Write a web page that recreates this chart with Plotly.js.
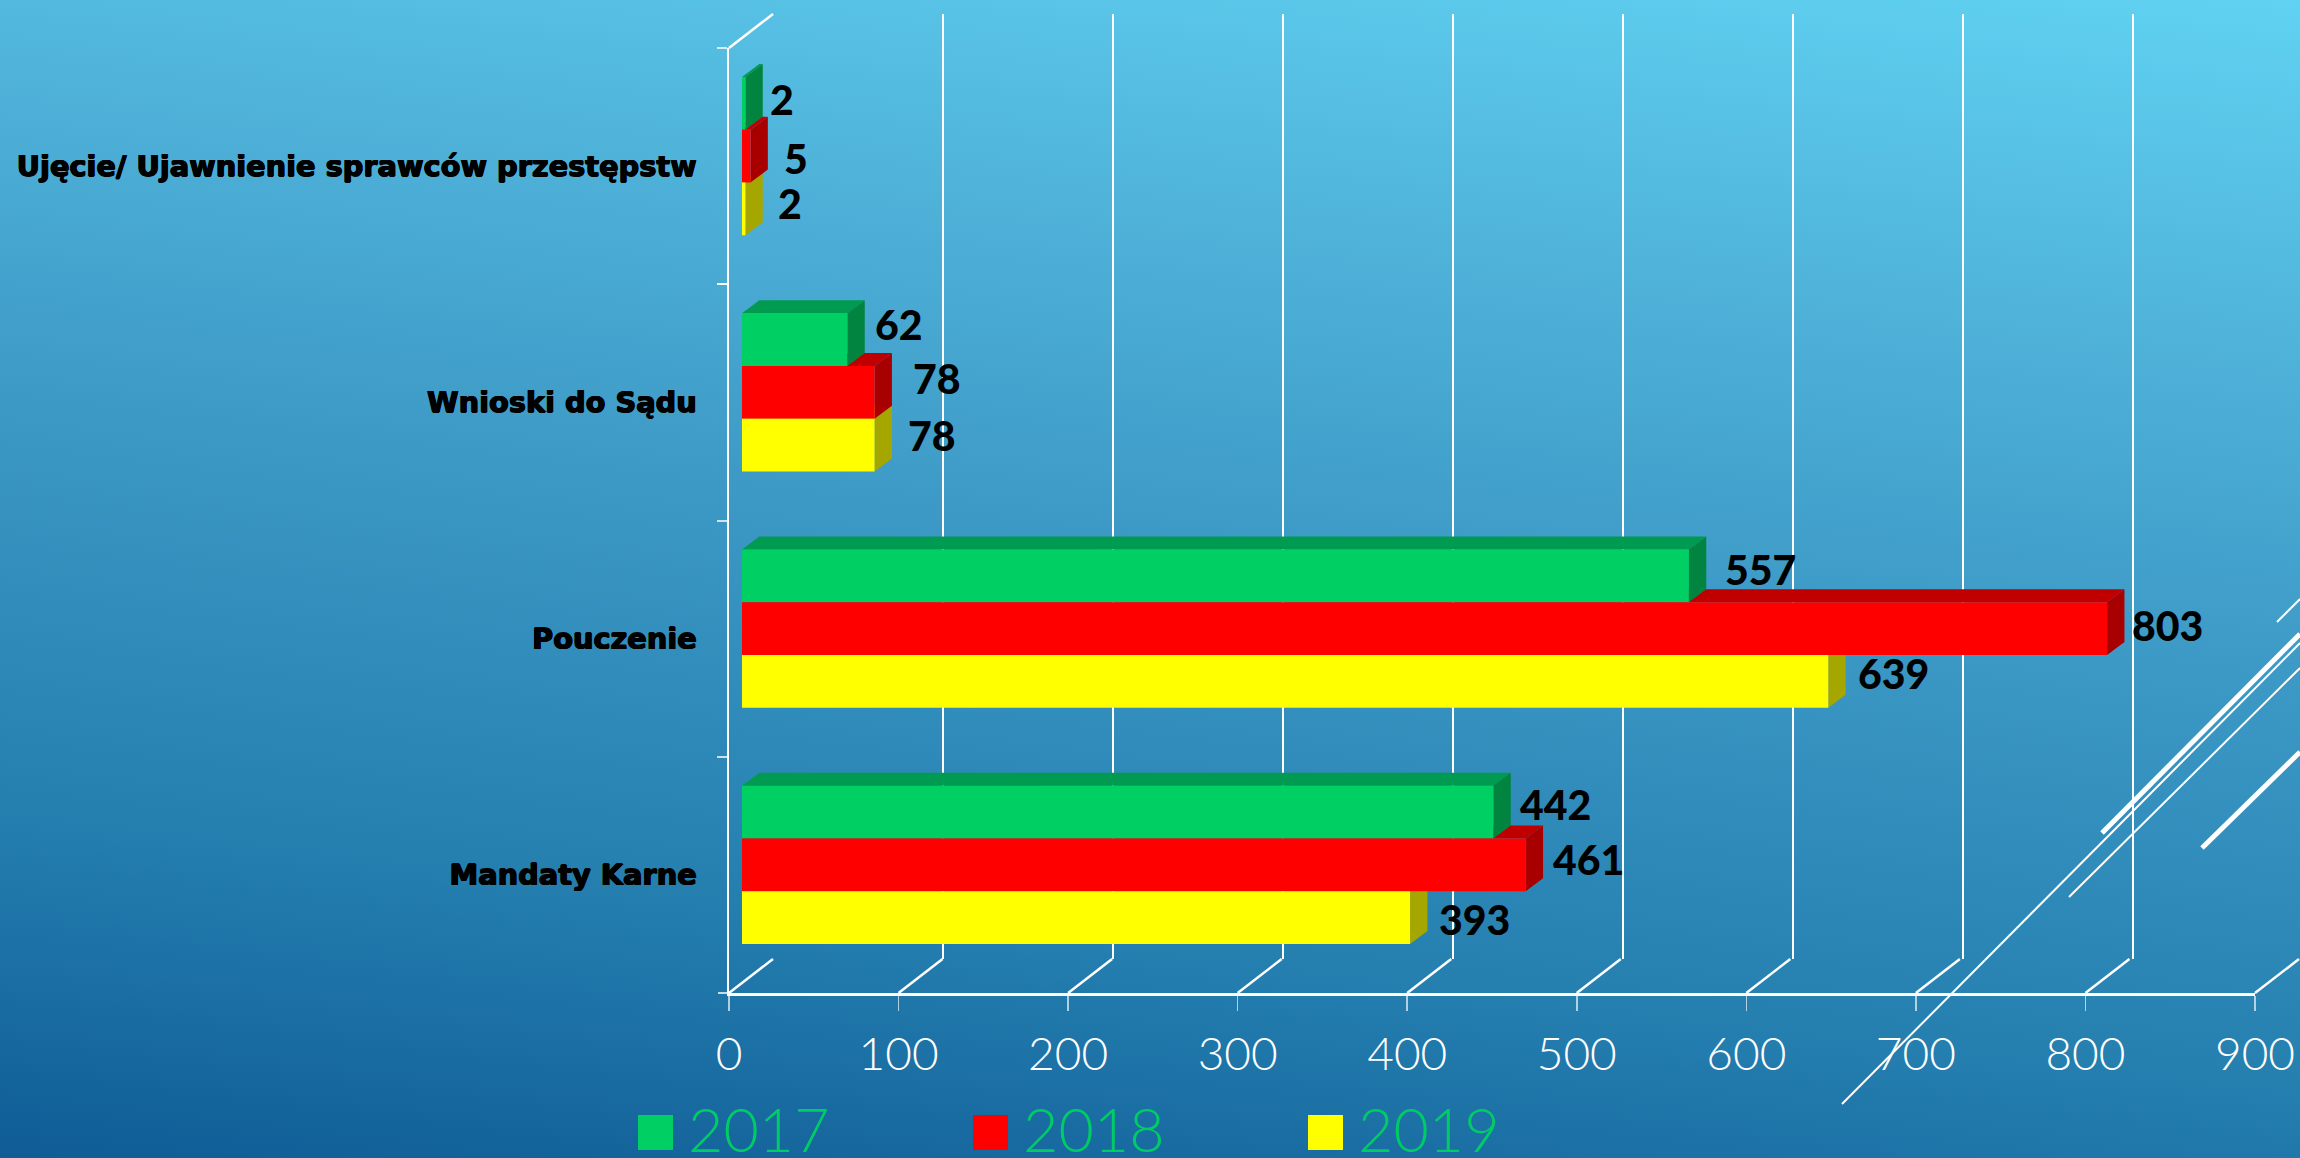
<!DOCTYPE html>
<html>
<head>
<meta charset="utf-8">
<script src="https://cdn.plot.ly/plotly-3.0.1.min.js"></script>
<style>
html,body{margin:0;padding:0;background:#2a85b5}
#chart{width:2300px;height:1158px;background:linear-gradient(187deg,#60d2f2 0%,#4fb2d9 25%,#3a96c3 50%,#2580b0 75%,#0f5c96 100%)}
</style>
</head>
<body>
<div id="chart"></div>
<script>
const categories = ['Ujęcie/ Ujawnienie sprawców przestępstw', 'Wnioski do Sądu', 'Pouczenie', 'Mandaty Karne'];
const years = ['2017', '2018', '2019'];
const values2017 = [2, 62, 557, 442];
const values2018 = [5, 78, 803, 461];
const values2019 = [2, 78, 639, 393];
const xTicks = [0, 100, 200, 300, 400, 500, 600, 700, 800, 900];

const seriesValues = [values2017, values2018, values2019];
const frontColors = ['#00CF63', '#FF0000', '#FFFF00'];
const topColors = ['#009A50', '#C00000', '#C4C400'];
const sideColors = ['#00843F', '#A80000', '#A6A600'];

// pixel geometry
const W = 2300, H = 1158;
const X0 = 729, X900 = 2255, Y0 = 48, Y1 = 993;
const fx = (a, b) => [a / W, b / W];
const fy = (top, bottom) => [(H - bottom) / H, (H - top) / H];
const wall = {dx: 44, dy: 34};
const bar = {dx: 13, dy: 10};
const innerScale = 1.7;    // pixels per unit on the wall and bar planes
const barFrac = 0.67 / 3;
const depthX = 10.2;       // bar depth in axis units
const depthY = 0.055;      // bar depth in band units
const barPos = (c, s) => c + (s - 1) * barFrac;
const tickPx = t => X0 + t * (X900 - X0) / 900;

// label nudges, in pixels
const labelDx = [[37, 45, 45], [52, 62, 57], [72, 60, 65], [62, 63, 64]];
const labelDy = [[4, -2, 5], [15, 14, 10], [6, 3, 8], [8, 5, -2]];

const baseAxis = {showgrid: false, zeroline: false, showline: false, showticklabels: false, ticks: '', fixedrange: true};

const traces = [];
traces.push({type: 'scatter', mode: 'lines', x: categories.map(() => 0), y: categories, xaxis: 'x', yaxis: 'y',
  line: {width: 0}, hoverinfo: 'skip', showlegend: false});
traces.push({type: 'scatter', mode: 'lines', x: [0, 800], y: [0, 0], xaxis: 'x2', yaxis: 'y2',
  line: {width: 0}, hoverinfo: 'skip', showlegend: false});

function facePoly(kind, s) {
  const xs = [], ys = [];
  seriesValues[s].forEach((v, c) => {
    const t = barPos(c, s) - barFrac / 2, b = barPos(c, s) + barFrac / 2;
    if (kind === 'top') {
      xs.push(0, depthX, v + depthX, v, 0, null);
      ys.push(t, t - depthY, t - depthY, t, t, null);
    } else {
      xs.push(v, v + depthX, v + depthX, v, v, null);
      ys.push(t, t - depthY, b - depthY, b, t, null);
    }
  });
  return {xs, ys};
}
[2, 1, 0].forEach(s => {
  const p = facePoly('top', s);
  traces.push({type: 'scatter', mode: 'lines', x: p.xs, y: p.ys, xaxis: 'x3', yaxis: 'y3', fill: 'toself',
    fillcolor: topColors[s], line: {width: 0, color: topColors[s]}, hoverinfo: 'skip', showlegend: false});
});
[2, 1, 0].forEach(s => {
  const p = facePoly('side', s);
  traces.push({type: 'scatter', mode: 'lines', x: p.xs, y: p.ys, xaxis: 'x3', yaxis: 'y3', fill: 'toself',
    fillcolor: sideColors[s], line: {width: 0, color: sideColors[s]}, hoverinfo: 'skip', showlegend: false});
});
seriesValues.forEach((vals, s) => {
  traces.push({type: 'bar', orientation: 'h', name: years[s], x: vals, y: categories, xaxis: 'x4', yaxis: 'y4',
    marker: {color: frontColors[s], line: {width: 0}}, showlegend: false});
});

const shapes = [];
const paperLine = (x0, y0, x1, y1, width, color, layer) => ({type: 'line', xref: 'paper', yref: 'paper',
  x0: x0 / W, y0: 1 - y0 / H, x1: x1 / W, y1: 1 - y1 / H, line: {color, width}, layer});
// floor diagonals, top of the side wall, bottom category tick
xTicks.forEach(t => shapes.push(paperLine(tickPx(t), Y1, tickPx(t) + wall.dx, Y1 - wall.dy, 2.5, '#ffffff', 'below')));
shapes.push(paperLine(X0, Y0, X0 + wall.dx, Y0 - wall.dy, 2.5, '#ffffff', 'below'));
shapes.push(paperLine(X0 - 11, Y1, X0, Y1, 2, 'rgba(255,255,255,0.75)', 'below'));

// decorative theme lines
const deco = [
  [1842, 1104, 2300, 643, 2], [2069, 897, 2300, 668, 2], [2102, 833, 2300, 634, 5],
  [2202, 848, 2300, 752, 5], [2277, 622, 2300, 599, 2]
];
deco.forEach(d => shapes.push(paperLine(d[0], d[1], d[2], d[3], d[4], '#ffffff', 'above')));

// legend swatches and text
const legendX = [638, 973, 1308];
const annotations = [];
years.forEach((y, i) => {
  shapes.push({type: 'rect', xref: 'paper', yref: 'paper', x0: legendX[i] / W, x1: (legendX[i] + 35) / W, y0: 1 - 1150 / H, y1: 1 - 1115 / H,
    fillcolor: frontColors[i], line: {width: 0}, layer: 'above'});
  annotations.push({xref: 'paper', yref: 'paper', x: (legendX[i] + 48) / W, y: 1 - 1128 / H, xanchor: 'left', yanchor: 'middle', showarrow: false,
    text: y, font: {family: 'Lato', size: 61, color: '#00CC66', weight: 300}});
});

// data labels
seriesValues.forEach((vals, s) => vals.forEach((v, c) => {
  annotations.push({xref: 'x3', yref: 'y3', x: v, y: barPos(c, s), xanchor: 'center', yanchor: 'middle', showarrow: false,
    xshift: labelDx[c][s], yshift: labelDy[c][s], text: String(v),
    font: {family: 'Lato', size: 41, color: '#000000', weight: 900}});
}));

const wallRight = W - (X0 + wall.dx);
const barRight = X0 + bar.dx + 900 * innerScale;

const layout = {
  width: W, height: H, autosize: false,
  margin: {l: 0, r: 0, t: 0, b: 0, pad: 0},
  paper_bgcolor: 'rgba(0,0,0,0)', plot_bgcolor: 'rgba(0,0,0,0)',
  showlegend: false, barmode: 'group', bargap: 0.33, bargroupgap: 0,
  xaxis: {domain: fx(X0, X900), anchor: 'y', range: [0, 900], tickmode: 'array', tickvals: xTicks, ticktext: xTicks.map(String),
    showgrid: false, zeroline: false, showline: true, linecolor: '#ffffff', linewidth: 3,
    ticks: 'outside', ticklen: 15, tickwidth: 1.5, tickcolor: 'rgba(255,255,255,0.65)', ticklabelstandoff: 4,
    tickfont: {family: 'Lato', size: 46, color: '#ffffff', weight: 300}, fixedrange: true},
  yaxis: {domain: fy(Y0, Y1), anchor: 'x', type: 'category', categoryorder: 'array', categoryarray: categories, range: [3.5, -0.5],
    showgrid: false, zeroline: false, showline: true, linecolor: '#ffffff', linewidth: 2.5,
    ticks: 'outside', tickson: 'boundaries', ticklen: 10, tickwidth: 2, tickcolor: 'rgba(255,255,255,0.75)', ticklabelstandoff: 24,
    tickfont: {family: 'DejaVu Sans', size: 28.8, color: '#000000', weight: 700, shadow: '0.7px 0 0 #000, -0.7px 0 0 #000, 0 0.5px 0 #000, 0 -0.5px 0 #000'}, fixedrange: true},
  xaxis2: Object.assign({}, baseAxis, {domain: fx(X0 + wall.dx, W), anchor: 'y2', range: [0, wallRight / innerScale], showgrid: true,
    gridcolor: '#ffffff', gridwidth: 2.5, tickmode: 'array', tickvals: xTicks}),
  yaxis2: Object.assign({}, baseAxis, {domain: fy(Y0 - wall.dy, Y1 - wall.dy), anchor: 'x2', range: [3.5, -0.5]}),
  xaxis3: Object.assign({}, baseAxis, {domain: fx(X0 + bar.dx, barRight), anchor: 'y3', range: [0, 900]}),
  yaxis3: Object.assign({}, baseAxis, {domain: fy(Y0 - bar.dy, Y1 - bar.dy), anchor: 'x3', range: [3.5, -0.5]}),
  xaxis4: Object.assign({}, baseAxis, {domain: fx(X0 + bar.dx, barRight), anchor: 'y4', range: [0, 900]}),
  yaxis4: Object.assign({}, baseAxis, {domain: fy(Y0 - bar.dy, Y1 - bar.dy), anchor: 'x4', type: 'category', categoryorder: 'array', categoryarray: categories, range: [3.5, -0.5]}),
  shapes, annotations
};
Plotly.newPlot('chart', traces, layout, {displayModeBar: false, staticPlot: true});
</script>
</body>
</html>
